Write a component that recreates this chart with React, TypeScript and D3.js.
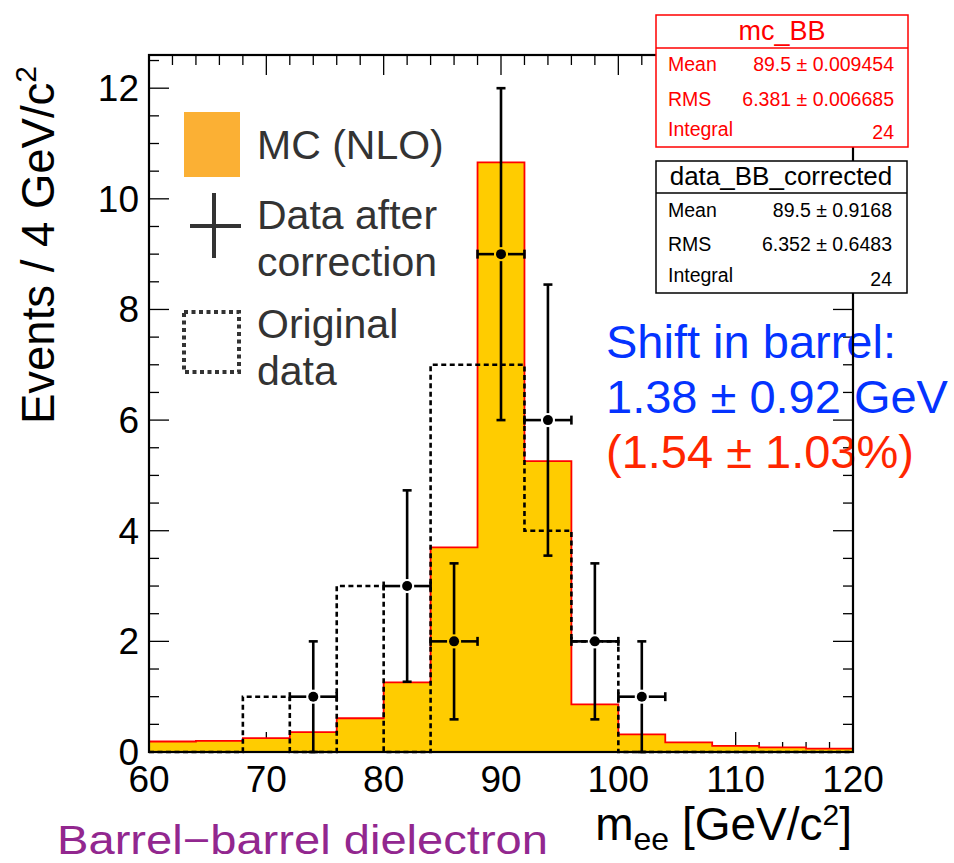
import React from "react";
import * as d3 from "d3";

// ---- data ----
const binLow = [60, 64, 68, 72, 76, 80, 84, 88, 92, 96, 100, 104, 108, 112, 116];
const binWidth = 4;
const mcValues = [0.19, 0.2, 0.25, 0.36, 0.61, 1.26, 3.7, 10.66, 5.26, 0.86, 0.32, 0.175, 0.11, 0.085, 0.06];
const dataCorrected = [0, 0, 0, 1, 0, 3, 2, 9, 6, 2, 1, 0, 0, 0, 0];
const dataErrors = [0, 0, 0, 1, 0, 1.73, 1.41, 3, 2.45, 1.41, 1, 0, 0, 0, 0];
const dataOriginal = [0, 0, 1, 0, 3, 0, 7, 7, 4, 2, 0, 0, 0, 0, 0];
const xTicks = [60, 70, 80, 90, 100, 110, 120];
const yTicks = [0, 2, 4, 6, 8, 10, 12];
const mcStats = [
  ["Mean", "89.5 ± 0.009454"],
  ["RMS", "6.381 ± 0.006685"],
  ["Integral", "24"],
];
const dataStats = [
  ["Mean", "89.5 ± 0.9168"],
  ["RMS", "6.352 ± 0.6483"],
  ["Integral", "24"],
];

const W = 954, H = 863;
const L = 149, R = 853, T = 55, B = 752;
const FONT = "'Liberation Sans', Arial, Helvetica, sans-serif";

export default function App() {
  const x = d3.scaleLinear().domain([60, 120]).range([L, R]);
  const y = d3.scaleLinear().domain([0, 12.6]).range([B, T]);

  const stepPts = (vals: number[]) => {
    const pts: [number, number][] = [];
    vals.forEach((v, i) => {
      pts.push([binLow[i], v]);
      pts.push([binLow[i] + binWidth, v]);
    });
    return pts;
  };
  const mcPts = stepPts(mcValues);
  const area = d3.area<[number, number]>().x((d) => x(d[0])).y0(y(0)).y1((d) => y(d[1]));
  const line = d3.line<[number, number]>().x((d) => x(d[0])).y((d) => y(d[1]));
  const mcOutline: [number, number][] = [[60, 0], ...mcPts, [120, 0]];
  const origOutline: [number, number][] = [[60, 0], ...stepPts(dataOriginal), [120, 0]];

  const minorX = d3.range(60, 120.01, 2);
  const minorY = d3.range(0, 12.6, 0.5);
  const isMajX = (v: number) => Math.abs(v % 10) < 1e-6;
  const isMajY = (v: number) => Math.abs(v % 2) < 1e-6;

  const tickStroke = { stroke: "#000", strokeWidth: 1.3 };
  const legFont = 41;

  return (
    <svg width={W} height={H} style={{ position: "absolute", left: 0, top: 0, background: "#fff" }} fontFamily={FONT}>
      <rect x={0} y={0} width={W} height={H} fill="#fff" />
      {/* bottom ticks (under histogram) */}
      {minorX.map((v) => (
        <line key={"bt" + v} x1={x(v)} x2={x(v)} y1={B} y2={B - (isMajX(v) ? 20 : 10)} {...tickStroke} />
      ))}
      {/* MC histogram */}
      <path d={area(mcPts) || ""} fill="#FFCC00" />
      <path d={line(mcOutline) || ""} fill="none" stroke="#FF0000" strokeWidth={1.8} />
      {/* original data dashed */}
      <path d={line(origOutline) || ""} fill="none" stroke="#000" strokeWidth={2.6} strokeDasharray="5,3.5" />
      {/* top ticks */}
      {minorX.map((v) => (
        <line key={"tt" + v} x1={x(v)} x2={x(v)} y1={T} y2={T + (isMajX(v) ? 20 : 10)} {...tickStroke} />
      ))}
      {/* left & right ticks */}
      {minorY.map((v) => (
        <g key={"yt" + v}>
          <line x1={L} x2={L + (isMajY(v) ? 20 : 10)} y1={y(v)} y2={y(v)} {...tickStroke} />
          <line x1={R} x2={R - (isMajY(v) ? 20 : 10)} y1={y(v)} y2={y(v)} {...tickStroke} />
        </g>
      ))}
      {/* data after correction */}
      {dataCorrected.map((v, i) => {
        if (v <= 0) return null;
        const cx = x(binLow[i] + binWidth / 2);
        const cy = y(v);
        const xl = x(binLow[i]);
        const xr = x(binLow[i] + binWidth);
        const yt = y(v + dataErrors[i]);
        const yb = y(v - dataErrors[i]);
        const gap = 7;
        const s = { stroke: "#000", strokeWidth: 2.6 };
        return (
          <g key={"d" + i}>
            <line x1={xl} x2={cx - gap} y1={cy} y2={cy} {...s} />
            <line x1={cx + gap} x2={xr} y1={cy} y2={cy} {...s} />
            <line x1={xl} x2={xl} y1={cy - 4.5} y2={cy + 4.5} {...s} />
            <line x1={xr} x2={xr} y1={cy - 4.5} y2={cy + 4.5} {...s} />
            <line x1={cx} x2={cx} y1={cy - gap} y2={yt} {...s} />
            <line x1={cx} x2={cx} y1={cy + gap} y2={yb} {...s} />
            <line x1={cx - 4.5} x2={cx + 4.5} y1={yt} y2={yt} {...s} />
            <line x1={cx - 4.5} x2={cx + 4.5} y1={yb} y2={yb} {...s} />
            <circle cx={cx} cy={cy} r={5} fill="#000" />
          </g>
        );
      })}
      {/* Legend */}
      <rect x={184} y={112} width={56} height={65} fill="#FBB034" />
      <text x={257} y={159} fontSize={legFont} fill="#333">MC (NLO)</text>
      <line x1={190} x2={241} y1={226} y2={226} stroke="#333" strokeWidth={4} />
      <line x1={214} x2={214} y1={193} y2={258} stroke="#333" strokeWidth={4} />
      <text x={257} y={229} fontSize={legFont} fill="#333">Data after</text>
      <text x={257} y={276} fontSize={legFont} fill="#333">correction</text>
      <rect x={184} y={312} width={55} height={60} fill="none" stroke="#333" strokeWidth={4} strokeDasharray="4,3.5" />
      <text x={257} y={338} fontSize={legFont} fill="#333">Original</text>
      <text x={257} y={385} fontSize={legFont} fill="#333">data</text>
      {/* Shift text */}
      <text x={606} y={358} fontSize={47} fill="#0433FF">Shift in barrel:</text>
      <text x={606} y={413} fontSize={47} fill="#0433FF">1.38 ± 0.92 GeV</text>
      <text x={606} y={468} fontSize={47} fill="#FF2600">(1.54 ± 1.03%)</text>
      {/* frame */}
      <rect x={L} y={T} width={R - L} height={B - T} fill="none" stroke="#000" strokeWidth={2.2} />
      {/* stat box mc */}
      <g>
        <rect x={656} y={15} width={252} height={132} fill="#fff" stroke="#FF0000" strokeWidth={1.5} />
        <line x1={656} x2={908} y1={48} y2={48} stroke="#FF0000" strokeWidth={1.5} />
        <text x={782} y={40} fontSize={27} fill="#FF0000" textAnchor="middle">mc_BB</text>
        {mcStats.map((r, i) => (
          <g key={"ms" + i}>
            <text x={668} y={[71, 106, 136][i]} fontSize={19.5} fill="#FF0000">{r[0]}</text>
            <text x={894} y={[71, 106, 139][i]} fontSize={19.5} fill="#FF0000" textAnchor="end">{r[1]}</text>
          </g>
        ))}
      </g>
      <g>
        <rect x={656} y={161} width={251} height={132} fill="#fff" stroke="#000" strokeWidth={1.5} />
        <line x1={656} x2={907} y1={193} y2={193} stroke="#000" strokeWidth={1.5} />
        <text x={781} y={185} fontSize={26} fill="#000" textAnchor="middle">data_BB_corrected</text>
        {dataStats.map((r, i) => (
          <g key={"ds" + i}>
            <text x={668} y={[217, 251, 282][i]} fontSize={19.5} fill="#000">{r[0]}</text>
            <text x={892} y={[217, 251, 286][i]} fontSize={19.5} fill="#000" textAnchor="end">{r[1]}</text>
          </g>
        ))}
      </g>
      {/* tick labels */}
      {xTicks.map((v) => (
        <text key={"xl" + v} x={x(v)} y={792} fontSize={37} textAnchor="middle" fill="#000">{v}</text>
      ))}
      {yTicks.map((v) => (
        <text key={"yl" + v} x={139} y={y(v) + 13} fontSize={37} textAnchor="end" fill="#000">{v}</text>
      ))}
      {/* axis titles */}
      <text transform={`translate(54,245) rotate(-90)`} fontSize={45.5} textAnchor="middle" fill="#000">
        Events / 4 GeV/c<tspan fontSize={30} dy={-18}>2</tspan>
      </text>
      <text x={852} y={840} fontSize={46} textAnchor="end" fill="#000">
        m<tspan fontSize={32} dy={10}>ee</tspan>
        <tspan dy={-10}> [GeV/c</tspan>
        <tspan fontSize={30} dy={-15}>2</tspan>
        <tspan dy={15}>]</tspan>
      </text>
      <text x={57} y={854} fontSize={40} fill="#92278F" textLength={491} lengthAdjust="spacingAndGlyphs">Barrel−barrel dielectron</text>
    </svg>
  );
}
